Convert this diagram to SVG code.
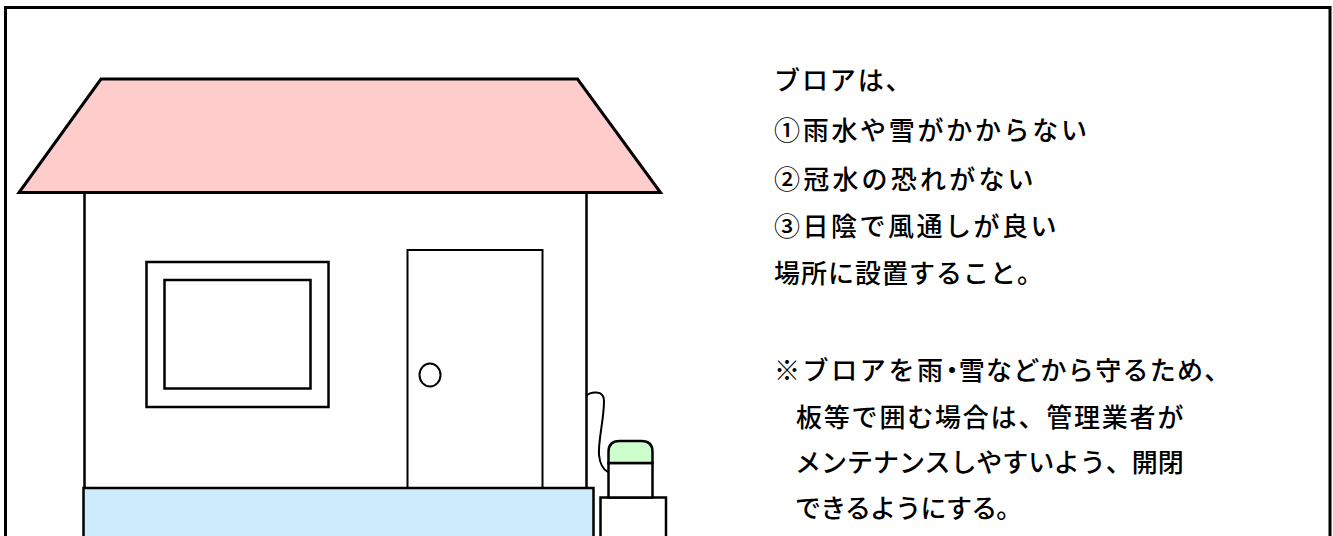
<svg xmlns="http://www.w3.org/2000/svg" width="1333" height="536" viewBox="0 0 1333 536">
  <style>
    .ln { stroke: #000; fill: none; stroke-linejoin: miter; }
    .txt { font-family: "Noto Sans CJK JP", "Noto Sans", sans-serif; font-size: 26px; font-weight: 500; fill: #000; }
    .half { font-feature-settings: "halt" 1; }
  </style>
  <rect x="0" y="0" width="1333" height="536" fill="#fff"/>

  <!-- outer frame -->
  <path class="ln" d="M5.5,540 V7.5 H1330 V540" stroke-width="3"/>

  <!-- house -->
  <g id="house">
    <rect x="84.5" y="192" width="502" height="300" fill="#fff" stroke="#000" stroke-width="2.5"/>
    <polygon points="101,79 577.5,79 660.5,192.5 19,192.5" fill="#FFCCCC" stroke="#000" stroke-width="3"/>
    <g id="window">
      <rect x="146.5" y="262" width="182" height="145" fill="#fff" stroke="#000" stroke-width="2.5"/>
      <rect x="164.5" y="280" width="146" height="108.5" fill="#fff" stroke="#000" stroke-width="2.5"/>
    </g>
    <g id="door">
      <rect x="407.5" y="250" width="135" height="240" fill="#fff" stroke="#000" stroke-width="2"/>
      <ellipse cx="430" cy="375" rx="10.5" ry="11.5" fill="#fff" stroke="#000" stroke-width="2"/>
    </g>
    <rect id="base" x="83.5" y="488" width="510" height="60" fill="#CCEBFC" stroke="#000" stroke-width="2.5"/>
  </g>

  <!-- blower unit -->
  <g id="blower">
    <path class="ln" d="M586,396 C590,392 604,389 604,401 C604,420 598,440 599,455 C600,465 604,470 608,472" stroke-width="2"/>
    <rect x="600.5" y="497.5" width="65.5" height="50" fill="#fff" stroke="#000" stroke-width="2.5"/>
    <rect x="608.5" y="463" width="44" height="34.5" fill="#fff" stroke="#000" stroke-width="2.5"/>
    <path d="M608.5,463 V452 Q608.5,441 619.5,441 H641.5 Q652.5,441 652.5,452 V463 Z" fill="#CCFFCC" stroke="#000" stroke-width="2.5"/>
  </g>

  <!-- notes -->
  <g id="notes" class="txt">
    <text x="774" y="90" letter-spacing="1.9">ブロアは、</text>
    <text x="774" y="140" letter-spacing="2.7">①雨水や雪がかからない</text>
    <text x="774" y="189" letter-spacing="3.2">②冠水の恐れがない</text>
    <text x="774" y="236" letter-spacing="2.5">③日陰で風通しが良い</text>
    <text x="774" y="283" letter-spacing="1">場所に設置すること。</text>
    <text x="774" y="380"><tspan letter-spacing="2.6">※ブロアを雨</tspan><tspan class="half">・</tspan><tspan letter-spacing="1.3">雪などから守るため、</tspan></text>
    <text x="796" y="427" letter-spacing="1.8">板等で囲む場合は、管理業者が</text>
    <text x="795" y="472" letter-spacing="0">メンテナンスしやすいよう、開閉</text>
    <text x="795" y="518" letter-spacing="-0.8">できるようにする。</text>
  </g>
</svg>
